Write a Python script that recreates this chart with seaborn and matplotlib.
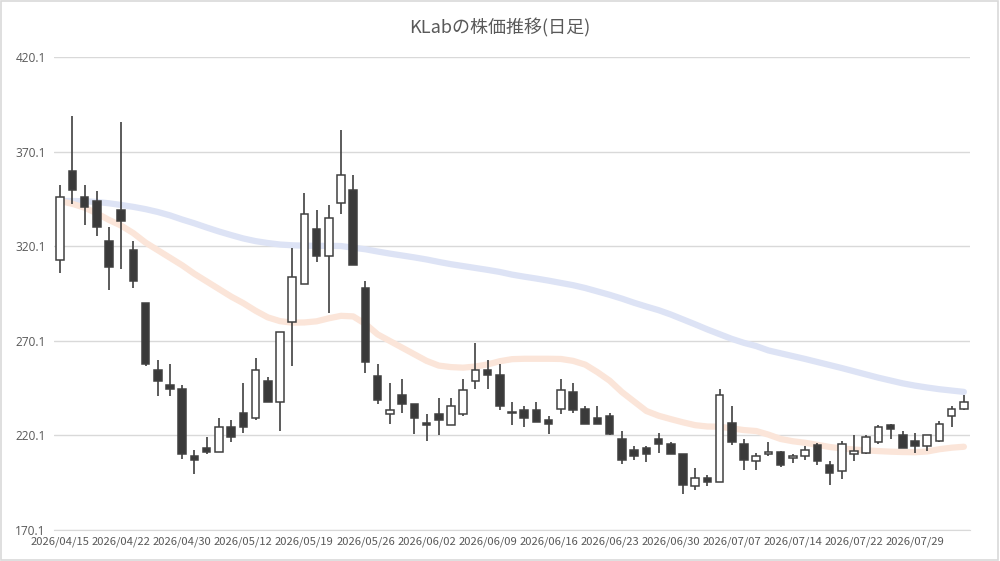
import numpy as np
import pandas as pd
import seaborn as sns
import matplotlib.pyplot as plt
from matplotlib.patches import Rectangle

# Trading days (75 sessions)
dates = [
    "2026/04/15", "2026/04/16", "2026/04/17", "2026/04/20", "2026/04/21",
    "2026/04/22", "2026/04/23", "2026/04/24", "2026/04/27", "2026/04/28",
    "2026/04/30", "2026/05/01", "2026/05/07", "2026/05/08", "2026/05/11",
    "2026/05/12", "2026/05/13", "2026/05/14", "2026/05/15", "2026/05/18",
    "2026/05/19", "2026/05/20", "2026/05/21", "2026/05/22", "2026/05/25",
    "2026/05/26", "2026/05/27", "2026/05/28", "2026/05/29", "2026/06/01",
    "2026/06/02", "2026/06/03", "2026/06/04", "2026/06/05", "2026/06/08",
    "2026/06/09", "2026/06/10", "2026/06/11", "2026/06/12", "2026/06/15",
    "2026/06/16", "2026/06/17", "2026/06/18", "2026/06/19", "2026/06/22",
    "2026/06/23", "2026/06/24", "2026/06/25", "2026/06/26", "2026/06/29",
    "2026/06/30", "2026/07/01", "2026/07/02", "2026/07/03", "2026/07/06",
    "2026/07/07", "2026/07/08", "2026/07/09", "2026/07/10", "2026/07/13",
    "2026/07/14", "2026/07/15", "2026/07/16", "2026/07/17", "2026/07/21",
    "2026/07/22", "2026/07/23", "2026/07/24", "2026/07/27", "2026/07/28",
    "2026/07/29", "2026/07/30", "2026/07/31", "2026/08/03", "2026/08/04",
]

open_ = [312.7, 359.7, 345.9, 344.0, 322.7, 339.0, 318.0, 290.3, 254.8, 246.9,
         244.8, 209.0, 213.3, 211.2, 224.3, 232.2, 229.1, 249.1, 238.0, 280.1,
         300.1, 329.0, 314.8, 342.7, 349.7, 298.0, 251.3, 231.2, 241.3, 236.9,
         226.9, 231.2, 225.4, 231.2, 249.1, 254.8, 252.2, 232.2, 233.3, 233.3,
         228.0, 234.3, 243.3, 234.3, 229.1, 230.1, 218.0, 212.2, 213.3, 218.0,
         215.4, 210.1, 193.1, 197.8, 195.4, 226.9, 215.4, 206.4, 210.1, 211.1,
         207.9, 209.0, 215.2, 204.3, 201.2, 210.1, 211.0, 216.4, 225.4, 220.1,
         216.9, 214.3, 216.9, 230.1, 234.3]
high = [352.7, 388.7, 352.7, 349.2, 330.1, 385.9, 322.7, 290.3, 260.1, 258.0,
        246.9, 212.2, 219.1, 229.1, 228.0, 248.0, 261.2, 251.2, 274.8, 319.2,
        348.0, 339.0, 341.7, 381.7, 358.0, 301.5, 258.0, 248.0, 250.1, 236.9,
        231.2, 240.1, 240.1, 250.1, 268.9, 260.1, 258.0, 238.0, 235.9, 238.0,
        230.1, 250.1, 248.0, 235.9, 235.4, 232.2, 222.2, 214.3, 214.3, 221.2,
        216.4, 210.1, 203.1, 198.9, 244.8, 235.4, 218.0, 211.0, 216.4, 212.0,
        210.1, 214.3, 216.2, 206.4, 217.0, 220.1, 220.1, 225.4, 225.9, 222.2,
        221.2, 220.1, 227.5, 235.9, 241.2]
low = [305.7, 342.6, 331.5, 325.7, 296.8, 307.8, 297.8, 257.0, 241.0, 241.0,
       207.8, 199.9, 210.1, 211.2, 216.4, 221.2, 228.0, 238.0, 222.2, 256.9,
       300.1, 311.5, 284.8, 336.9, 310.1, 253.1, 236.9, 225.9, 232.2, 221.1,
       216.9, 220.1, 225.4, 230.1, 244.8, 244.8, 233.3, 225.4, 224.3, 227.0,
       221.1, 231.2, 232.2, 225.9, 225.9, 220.1, 205.2, 206.9, 206.2, 211.0,
       210.1, 188.9, 191.0, 193.1, 195.4, 215.2, 202.0, 202.0, 209.0, 203.3,
       205.4, 206.9, 204.3, 194.1, 196.9, 206.4, 210.1, 215.4, 218.0, 213.3,
       211.0, 212.0, 216.4, 224.3, 233.3]
close = [345.9, 349.6, 340.6, 330.1, 309.0, 333.6, 301.5, 258.0, 248.9, 244.7,
         210.1, 206.9, 211.2, 224.3, 219.1, 224.3, 254.8, 238.0, 274.8, 303.8,
         336.9, 314.8, 334.8, 358.0, 310.1, 259.0, 239.0, 233.3, 236.9, 229.1,
         225.4, 228.0, 235.4, 244.3, 254.8, 252.2, 235.9, 231.7, 229.1, 227.0,
         225.9, 244.3, 233.3, 225.9, 225.9, 221.1, 206.9, 209.0, 210.1, 215.4,
         210.1, 194.1, 197.8, 195.4, 241.2, 216.8, 206.9, 209.0, 211.1, 204.3,
         209.0, 212.2, 206.4, 200.1, 215.4, 212.0, 219.0, 224.3, 223.3, 213.3,
         214.3, 220.1, 225.9, 234.3, 238.0]

# Moving averages (short / long)
ma_short = [344.0, 342.5, 340.5, 337.5, 334.0, 331.0, 327.0, 322.0, 318.0, 314.0,
            310.0, 305.5, 301.5, 297.5, 293.5, 290.0, 286.0, 282.5, 280.5, 279.7,
            279.8, 280.4, 282.0, 283.3, 283.0, 279.0, 273.5, 270.0, 266.5, 263.0,
            259.5, 257.0, 256.2, 255.9, 256.5, 257.6, 259.3, 260.4, 260.6, 260.6,
            260.6, 260.5, 259.5, 257.5, 253.5, 249.0, 243.0, 238.0, 233.0, 230.5,
            228.7, 227.0, 225.5, 224.8, 224.7, 223.8, 222.9, 222.4, 220.5, 218.2,
            217.0, 216.2, 215.1, 214.0, 213.2, 212.6, 212.2, 211.8, 211.5, 211.3,
            211.2, 211.6, 212.8, 213.6, 214.1]
ma_long = [344.0, 344.0, 343.9, 343.5, 342.8, 341.9, 340.9, 339.7, 338.2, 336.4,
           334.2, 332.2, 330.0, 327.9, 326.0, 324.2, 322.8, 321.8, 321.0, 320.6,
           320.4, 320.3, 320.3, 320.2, 319.3, 318.5, 317.3, 316.2, 315.2, 314.2,
           313.1, 311.8, 310.6, 309.6, 308.6, 307.6, 306.5, 305.1, 304.0, 303.0,
           301.9, 300.7, 299.5, 298.0, 296.2, 294.4, 292.4, 290.2, 288.2, 286.3,
           284.0, 281.4, 278.8, 276.1, 273.6, 271.1, 269.0, 267.3, 265.0, 263.5,
           262.0, 260.5, 258.9, 257.3, 255.7, 254.0, 252.3, 250.6, 249.1, 247.6,
           246.4, 245.4, 244.5, 243.8, 243.1]

y_ticks = [170.1, 220.1, 270.1, 320.1, 370.1, 420.1]

df = pd.DataFrame({"date": dates, "open": open_, "high": high, "low": low,
                   "close": close, "ma_short": ma_short, "ma_long": ma_long})
df["idx"] = np.arange(len(df))

sns.set_style("white")
plt.rcParams["font.family"] = ["Noto Sans CJK JP", "DejaVu Sans"]

fig = plt.figure(figsize=(10, 5.61), dpi=100)
ax = fig.add_axes([0.054, 0.0553, 0.916, 0.843])

# grid
for y in y_ticks:
    ax.axhline(y, color="#d9d9d9", lw=1, zorder=0)

# moving averages
sns.lineplot(data=df, x="idx", y="ma_long", ax=ax, color="#dde3f5", lw=4.5,
             zorder=1, legend=False)
sns.lineplot(data=df, x="idx", y="ma_short", ax=ax, color="#fbe5d9", lw=4.5,
             zorder=1, legend=False)

# candlesticks
up = df["close"] >= df["open"]
ax.vlines(df["idx"], df["low"], df["high"], color="#404040", lw=1.2, zorder=2)
body_bottom = np.minimum(df["open"], df["close"])
body_height = np.abs(df["close"] - df["open"]).clip(lower=0.6)
ax.bar(df["idx"][up], body_height[up], bottom=body_bottom[up], width=0.62,
       color="white", edgecolor="#404040", lw=1.1, zorder=3)
ax.bar(df["idx"][~up], body_height[~up], bottom=body_bottom[~up], width=0.62,
       color="#3a3a3a", edgecolor="#404040", lw=1.1, zorder=3)

ax.set_xlim(-0.5, len(df) - 0.5)
ax.set_ylim(170.1, 420.1)
ax.set_yticks(y_ticks)
ax.set_yticklabels([f"{v:.1f}" for v in y_ticks])
ax.set_xticks(df["idx"][::5])
ax.set_xticklabels(df["date"][::5])
ax.set_xticks(np.arange(-0.5, len(df), 1), minor=True)
ax.tick_params(axis="x", which="major", length=0, pad=5, labelsize=8.1,
               labelcolor="#595959")
ax.tick_params(axis="x", which="minor", length=4, color="#c8c8c8", width=1)
ax.tick_params(axis="y", length=0, pad=6, labelsize=8.6, labelcolor="#595959")
for lab in ax.get_xticklabels() + ax.get_yticklabels():
    lab.set_family(["Open Sans", "DejaVu Sans"])
ax.set_xlabel("")
ax.set_ylabel("")
for side in ["top", "right", "left"]:
    ax.spines[side].set_visible(False)
ax.spines["bottom"].set_color("#d9d9d9")
ax.spines["bottom"].set_position(("data", 170.1))

fig.text(0.5, 0.95, "KLabの株価推移(日足)", ha="center", va="center",
         fontsize=13, color="#595959")

fig.patches.append(Rectangle((0.001, 0.002), 0.997, 0.996, transform=fig.transFigure,
                             fill=False, edgecolor="#d9d9d9", lw=1.2))

fig.savefig("out.png", dpi=100)
